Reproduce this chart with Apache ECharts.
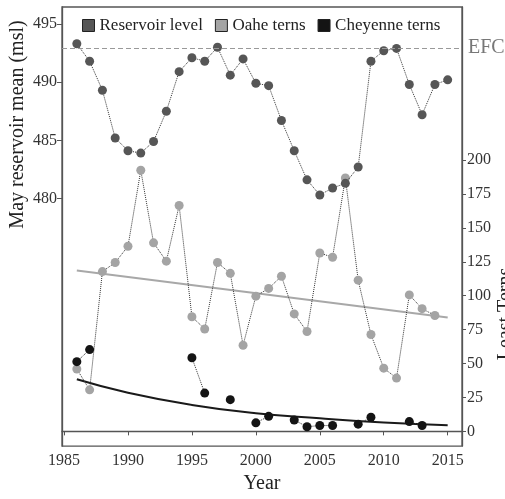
<!DOCTYPE html>
<html>
<head>
<meta charset="utf-8">
<script src="https://cdn.jsdelivr.net/npm/echarts@6/dist/echarts.min.js"></script>
<style>
  html, body { margin: 0; padding: 0; background: #fff; }
  #chart { width: 505px; height: 499px; }
</style>
</head>
<body>
<div id="chart"></div>
<script>
// years of the survey
var years = [1986, 1987, 1988, 1989, 1990, 1991, 1992, 1993, 1994, 1995,
  1996, 1997, 1998, 1999, 2000, 2001, 2002, 2003, 2004, 2005,
  2006, 2007, 2008, 2009, 2010, 2011, 2012, 2013, 2014, 2015];
// May reservoir mean (msl)
var reservoir = [493.3, 491.8, 489.3, 485.2, 484.1, 483.9, 484.9, 487.5, 490.9, 492.1,
  491.8, 493.0, 490.6, 492.0, 489.9, 489.7, 486.7, 484.1, 481.6, 480.3,
  480.9, 481.3, 482.7, 491.8, 492.7, 492.9, 489.8, 487.2, 489.8, 490.2];
// least terns counted (null = no count)
var oahe = [46, 30.6, 117.8, 124.5, 136.5, 192.5, 139, 125.5, 166.5, 84.5,
  75.5, 124.5, 116.5, 63.5, 99.7, 105.4, 114.4, 86.6, 73.6, 131.5,
  128.4, 186.8, 111.5, 71.4, 46.6, 39.3, 100.6, 90.5, 85.4, null];
var cheyenne = [51.4, 60.3, null, null, null, null, null, null, null, 54.3,
  28.2, null, 23.4, null, 6.3, 11.1, null, 8.4, 3.4, 4.3,
  4.3, null, 5.3, 10.4, null, null, 7.2, 4.3, null, null];
// fitted trends
var oaheTrendYears = [1986, 2015];
var oaheTrend = [118.7, 84.0];
var cheyTrendYears = [1986, 1990, 1995, 2000, 2005, 2010, 2015];
var cheyTrend = [38.4, 28.5, 19.5, 13.3, 9.6, 6.6, 4.6];
var efc = 492.92;
// tick labels
var yearTicks = [1985, 1990, 1995, 2000, 2005, 2010, 2015];
var levelTicks = [480, 485, 490, 495];
var ternTicks = [0, 25, 50, 75, 100, 125, 150, 175, 200];

function pairs(xs, ys) {
  return xs.map(function (x, i) {
    return [x, ys[i] == null ? '-' : ys[i]];
  });
}
function plain(v) { return String(v); }

var font = 'Liberation Serif';
var chart = echarts.init(document.getElementById('chart'));

chart.setOption({
  animation: false,
  backgroundColor: '#fff',
  textStyle: { fontFamily: font },
  grid: {
    left: 62, right: 43, top: 7, bottom: 45,
    show: true, borderColor: '#555', borderWidth: 1.3
  },
  legend: {
    left: 82, top: 17, padding: 0,
    itemWidth: 12, itemHeight: 12, itemGap: 12,
    icon: 'rect',
    itemStyle: { borderColor: '#222', borderWidth: 1 },
    textStyle: { fontFamily: font, fontSize: 17, color: '#222' },
    data: ['Reservoir level', 'Oahe terns', 'Cheyenne terns']
  },
  xAxis: {
    type: 'value',
    min: 1984.84, max: 2016.12,
    name: 'Year', nameLocation: 'middle', nameGap: 22,
    nameTextStyle: { fontFamily: font, fontSize: 20, color: '#222' },
    axisLine: { lineStyle: { color: '#555', width: 1.3 } },
    axisTick: { length: 4, customValues: yearTicks, lineStyle: { color: '#555' } },
    axisLabel: { customValues: yearTicks, formatter: plain, margin: 7, fontSize: 16, color: '#333', fontFamily: font },
    splitLine: { show: false }
  },
  yAxis: [
    {
      type: 'value',
      min: 458.71, max: 496.46,
      axisLine: { show: true, lineStyle: { color: '#555', width: 1.3 } },
      axisTick: { show: true, length: 5, customValues: levelTicks, lineStyle: { color: '#555' } },
      axisLabel: { customValues: levelTicks, formatter: plain, margin: 5, fontSize: 16, color: '#333', fontFamily: font },
      splitLine: { show: false }
    },
    {
      type: 'value',
      position: 'right',
      min: -10.86, max: 312.9,
      axisLine: { show: true, lineStyle: { color: '#555', width: 1.3 } },
      axisTick: { show: true, length: 4, customValues: ternTicks, lineStyle: { color: '#555' } },
      axisLabel: { customValues: ternTicks, formatter: plain, margin: 5, fontSize: 16, color: '#333', fontFamily: font },
      splitLine: { show: false }
    }
  ],
  graphic: [
    {
      type: 'text', x: 18, y: 124.5, rotation: Math.PI / 2,
      style: {
        text: 'May reservoir mean (msl)', fontFamily: font, fontSize: 20,
        fill: '#222', textAlign: 'center', textVerticalAlign: 'middle'
      }
    },
    {
      type: 'text', x: 506, y: 314, rotation: Math.PI / 2,
      style: {
        text: 'Least Terns', fontFamily: font, fontSize: 20,
        fill: '#222', textAlign: 'center', textVerticalAlign: 'middle'
      }
    }
  ],
  series: [
    {
      name: 'Reservoir level',
      type: 'line',
      yAxisIndex: 0,
      data: pairs(years, reservoir),
      symbol: 'circle', symbolSize: 9, showAllSymbol: true,
      itemStyle: { color: '#565656' },
      lineStyle: { color: '#333', width: 1, type: 'dotted' },
      markLine: {
        silent: true, symbol: 'none',
        lineStyle: { color: '#999', width: 1.2, type: [5, 3] },
        label: { show: true, position: 'end', formatter: 'EFC', distance: 6, fontFamily: font, fontSize: 20, color: '#777' },
        data: [{ yAxis: efc }]
      },
      z: 4
    },
    {
      name: 'Oahe terns',
      type: 'line',
      yAxisIndex: 1,
      data: pairs(years, oahe),
      symbol: 'circle', symbolSize: 9, showAllSymbol: true,
      itemStyle: { color: '#a4a4a4' },
      lineStyle: { color: '#333', width: 1, type: 'dotted' },
      z: 3
    },
    {
      name: 'Cheyenne terns',
      type: 'line',
      yAxisIndex: 1,
      data: pairs(years, cheyenne),
      symbol: 'circle', symbolSize: 9, showAllSymbol: true,
      itemStyle: { color: '#141414' },
      lineStyle: { color: '#333', width: 1, type: 'dotted' },
      z: 3
    },
    {
      name: 'Oahe trend',
      type: 'line',
      yAxisIndex: 1,
      data: pairs(oaheTrendYears, oaheTrend),
      showSymbol: false,
      lineStyle: { color: '#a8a8a8', width: 2 },
      z: 2
    },
    {
      name: 'Cheyenne trend',
      type: 'line',
      yAxisIndex: 1,
      data: pairs(cheyTrendYears, cheyTrend),
      smooth: true,
      showSymbol: false,
      lineStyle: { color: '#1a1a1a', width: 2 },
      z: 2
    }
  ]
});
</script>
</body>
</html>
